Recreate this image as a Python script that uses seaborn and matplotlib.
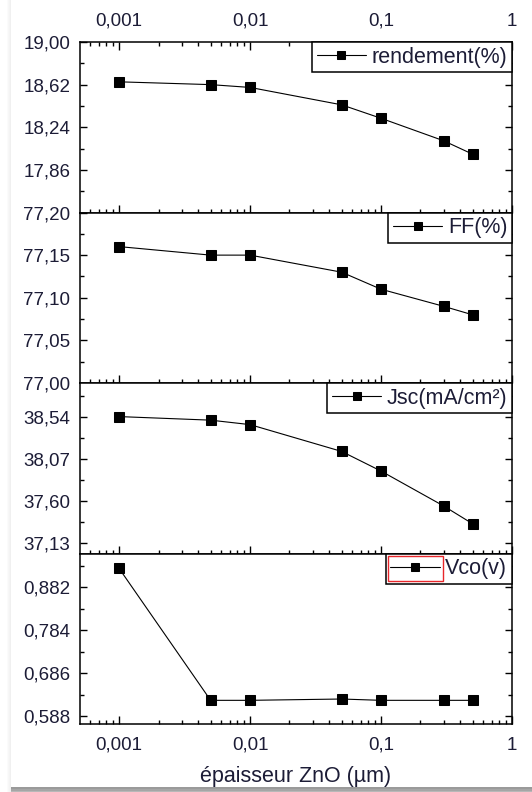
import numpy as np
import matplotlib
matplotlib.use("Agg")
import matplotlib.pyplot as plt
from matplotlib.patches import Rectangle
from matplotlib.ticker import LogLocator, NullFormatter
import seaborn as sns

# ZnO layer thickness (µm) and the simulated cell parameters
thickness_um = [0.001, 0.005, 0.01, 0.05, 0.1, 0.3, 0.5]
rendement = [18.645, 18.62, 18.595, 18.44, 18.32, 18.12, 18.00]
ff = [77.16, 77.15, 77.15, 77.13, 77.11, 77.09, 77.08]
jsc = [38.54, 38.50, 38.45, 38.15, 37.93, 37.54, 37.34]
vco = [0.925, 0.624, 0.624, 0.627, 0.624, 0.624, 0.624]

series_names = ["rendement(%)", "FF(%)", "Jsc(mA/cm²)", "Vco(v)"]

x_ticks = [0.001, 0.01, 0.1, 1]
x_tick_labels = ["0,001", "0,01", "0,1", "1"]

y_ticks = [
    [17.86, 18.24, 18.62, 19.00],
    [77.00, 77.05, 77.10, 77.15, 77.20],
    [37.13, 37.60, 38.07, 38.54],
    [0.588, 0.686, 0.784, 0.882],
]
y_tick_labels = [
    ["17,86", "18,24", "18,62", "19,00"],
    ["77,00", "77,05", "77,10", "77,15", "77,20"],
    ["37,13", "37,60", "38,07", "38,54"],
    ["0,588", "0,686", "0,784", "0,882"],
]
y_limits = [(17.48, 19.00), (77.00, 77.20), (37.007, 38.916), (0.570, 0.959)]

sns.set_style("ticks")
plt.rcParams["font.family"] = ["Liberation Sans", "DejaVu Sans"]
text_color = "#1c1c36"

W, H = 532, 792
fig = plt.figure(figsize=(W / 100, H / 100), dpi=100)
fig.patch.set_facecolor("white")

# page shadow along the left and bottom edges
for i in range(4):
    fig.add_artist(Rectangle(((7 + i) / W, 0), 1 / W, 1, transform=fig.transFigure,
                             color="black", alpha=0.015 * (i + 1), lw=0, zorder=-5))
bottom_band = [(787, "#9a9a9a"), (789, "#a6a6a6"), (791, "#b8b8b8")]
for y0, c in bottom_band:
    fig.add_artist(Rectangle((11 / W, (H - y0 - 2) / H), 1, 2 / H, transform=fig.transFigure,
                             color=c, lw=0, zorder=-4))

left_px, right_px, top_px, bottom_px = 80, 512, 42, 724
panel_h = (bottom_px - top_px) / 4

axes = []
for k in range(4):
    y_top = top_px + k * panel_h
    ax = fig.add_axes([left_px / W, 1 - (y_top + panel_h) / H,
                       (right_px - left_px) / W, panel_h / H])
    axes.append(ax)

series = [rendement, ff, jsc, vco]
for k, ax in enumerate(axes):
    ax.set_xscale("log")
    sns.lineplot(x=thickness_um, y=series[k], ax=ax, color="black", linewidth=0.8,
                 marker="s", markersize=7, markeredgecolor="black",
                 markerfacecolor="black", label=series_names[k])
    ax.set_xlim(5.03e-4, 1.0)
    ax.set_ylim(*y_limits[k])

    # y ticks: labelled majors, minors halfway between them
    ax.set_yticks(y_ticks[k], labels=y_tick_labels[k])
    step = y_ticks[k][1] - y_ticks[k][0]
    minors = np.arange(y_ticks[k][0] - step / 2, y_limits[k][1], step)
    minors = [m for m in minors if y_limits[k][0] < m < y_limits[k][1]]
    ax.set_yticks(minors, minor=True)

    ax.set_xticks(x_ticks, labels=x_tick_labels)
    ax.xaxis.set_minor_locator(LogLocator(base=10, subs=np.arange(2, 10)))
    ax.xaxis.set_minor_formatter(NullFormatter())

    ax.tick_params(axis="y", which="both", direction="in", left=True, right=True,
                   labelleft=True, labelsize=13.5, labelcolor=text_color, pad=7,
                   color="black", width=1.0)
    ax.tick_params(axis="y", which="major", length=5)
    ax.tick_params(axis="y", which="minor", length=3)
    ax.tick_params(axis="x", which="both", direction="in", bottom=True,
                   top=(k == 0), labelbottom=(k == 3), labeltop=(k == 0),
                   labelsize=13.5, labelcolor=text_color, color="black", width=1.0,
                   pad=9)
    ax.tick_params(axis="x", which="major", length=6)
    ax.tick_params(axis="x", which="minor", length=3)
    for sp in ax.spines.values():
        sp.set_linewidth(1.1)
        sp.set_color("black")
        sp.set_visible(True)

    ax.set_ylabel("")
    ax.set_xlabel("")
    handles, labels = ax.get_legend_handles_labels()
    leg = ax.legend(handles, labels, loc="upper right", borderaxespad=0,
                    frameon=True, fancybox=False, framealpha=1, edgecolor="black",
                    fontsize=15.5, handlelength=2.3, handletextpad=0.25,
                    borderpad=0.22, labelcolor=text_color, numpoints=1)
    leg.get_frame().set_linewidth(1.1)
    for h in leg.legend_handles:
        h.set_markersize(5.5)

axes[3].set_xlabel("épaisseur ZnO (µm)", fontsize=15.5, color=text_color, labelpad=9)

# red selection box drawn around the Vco legend key
fig.canvas.draw()
renderer = fig.canvas.get_renderer()
vco_leg = axes[3].get_legend()
hb = vco_leg.legend_handles[0].get_window_extent(renderer)
lb = vco_leg.get_window_extent(renderer)
x0, x1 = lb.x0 + 2.5, hb.x1 - 1
y0, y1 = lb.y0 + 2.5, lb.y1 - 2.5
fig.add_artist(Rectangle((x0 / W, y0 / H), (x1 - x0) / W, (y1 - y0) / H,
                         transform=fig.transFigure, fill=False, edgecolor="#e8262a",
                         linewidth=1.0, zorder=10))

fig.savefig("out.png", dpi=100)
